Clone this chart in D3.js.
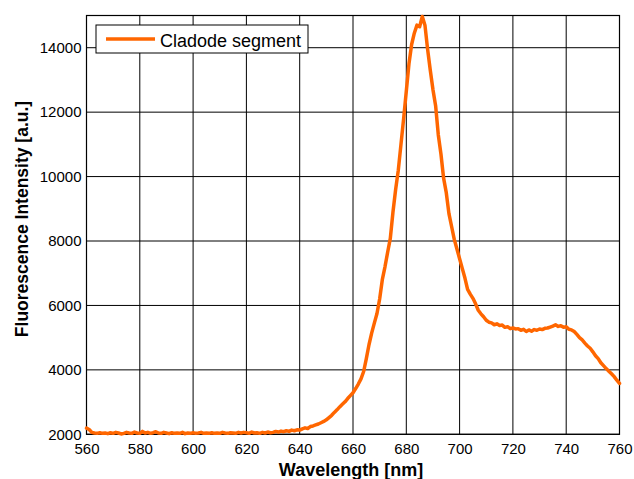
<!DOCTYPE html>
<html>
<head>
<meta charset="utf-8">
<script src="https://cdn.jsdelivr.net/npm/d3@7/dist/d3.min.js"></script>
<style>
  html, body { margin: 0; padding: 0; background: #fff; }
  svg { display: block; }
  text { font-family: "Liberation Sans", Arial, Helvetica, sans-serif; fill: #000; }
</style>
</head>
<body>
<svg id="chart" width="634" height="479"></svg>
<script>
// ---- Data ----
const wavelengthStart = 560; // nm, 1 nm step
const intensity = [
  2190, 2150, 2060, 2040, 2030, 2050, 2030, 2040, 2020, 2050,   // 560-569
  2030, 2060, 2040, 2010, 2030, 2060, 2040, 2030, 2070, 2040,   // 570-579
  2030, 2090, 2040, 2060, 2030, 2050, 2080, 2040, 2030, 2060,   // 580-589
  2040, 2020, 2050, 2030, 2040, 2030, 2060, 2020, 2040, 2030,   // 590-599
  2050, 2030, 2040, 2060, 2030, 2040, 2030, 2050, 2030, 2040,   // 600-609
  2030, 2060, 2040, 2030, 2050, 2040, 2030, 2060, 2040, 2060,   // 610-619
  2050, 2030, 2070, 2040, 2050, 2030, 2060, 2040, 2070, 2050,   // 620-629
  2060, 2090, 2070, 2100, 2080, 2110, 2090, 2130, 2110, 2140,   // 630-639
  2130, 2170, 2200, 2180, 2240, 2260, 2290, 2320, 2360, 2400,   // 640-649
  2450, 2520, 2590, 2680, 2760, 2850, 2930, 3010, 3110, 3200,   // 650-659
  3290, 3420, 3560, 3720, 3950, 4350, 4780, 5140, 5450, 5750,   // 660-669
  6200, 6800, 7200, 7650, 8080, 8900, 9600, 10200, 11000, 11800, // 670-679
  12650, 13500, 14100, 14450, 14700, 14650, 14970, 14700, 13950, 13300, // 680-689
  12700, 12200, 11300, 10700, 9950, 9500, 8850, 8450, 8050, 7750, // 690-699
  7450, 7150, 6850, 6500, 6350, 6220, 6050, 5850, 5740, 5650,   // 700-709
  5540, 5480, 5460, 5400, 5430, 5380, 5390, 5320, 5340, 5280,   // 710-719
  5300, 5270, 5280, 5230, 5260, 5190, 5240, 5200, 5250, 5230,   // 720-729
  5270, 5250, 5290, 5300, 5330, 5360, 5400, 5350, 5370, 5320,   // 730-739
  5340, 5260, 5240, 5190, 5100, 5000, 4930, 4830, 4740, 4670,   // 740-749
  4560, 4440, 4350, 4220, 4130, 4040, 3960, 3880, 3790, 3680,   // 750-759
  3580                                                          // 760
];
const xTicks = [560, 580, 600, 620, 640, 660, 680, 700, 720, 740, 760];
const yTicks = [2000, 4000, 6000, 8000, 10000, 12000, 14000];
const seriesName = "Cladode segment";
const xTitle = "Wavelength [nm]";
const yTitle = "Fluorescence Intensity [a.u.]";

const data = intensity.map((v, i) => ({ x: wavelengthStart + i, y: v }));

// ---- Layout ----
const svg = d3.select("#chart");
const pL = 86.5, pR = 619.5, pT = 15.5, pB = 434.3;

const x = d3.scaleLinear().domain([560, 760]).range([pL, pR]);
const y = d3.scaleLinear().domain([2000, 15000]).range([pB, pT]);

svg.append("rect").attr("x", 0).attr("y", 0).attr("width", 634).attr("height", 479).attr("fill", "#fff");

// grid
const grid = svg.append("g");
grid.selectAll("line.vx").data(xTicks).enter().append("line")
  .attr("x1", d => x(d)).attr("x2", d => x(d))
  .attr("y1", pT).attr("y2", pB)
  .attr("stroke", "#000").attr("stroke-width", 1);
grid.selectAll("line.hy").data(yTicks).enter().append("line")
  .attr("y1", d => y(d)).attr("y2", d => y(d))
  .attr("x1", pL).attr("x2", pR)
  .attr("stroke", "#000").attr("stroke-width", 1);

// axes
const xAxis = d3.axisBottom(x).tickValues(xTicks).tickSize(0).tickPadding(9).tickFormat(d3.format("d"));
const gx = svg.append("g").attr("transform", `translate(0,${pB})`).call(xAxis);
gx.select(".domain").remove();
gx.selectAll("text").style("font-size", "15px").style("font-family", "'Liberation Sans', Arial, sans-serif").attr("fill", "#000");

const yAxis = d3.axisLeft(y).tickValues(yTicks).tickSize(0).tickPadding(5).tickFormat(d3.format("d"));
const gy = svg.append("g").attr("transform", `translate(${pL},0)`).call(yAxis);
gy.select(".domain").remove();
gy.selectAll("text").style("font-size", "15px").style("font-family", "'Liberation Sans', Arial, sans-serif").attr("fill", "#000");

// plot border
svg.append("rect").attr("x", pL).attr("y", pT)
  .attr("width", pR - pL).attr("height", pB - pT)
  .attr("fill", "none").attr("stroke", "#000").attr("stroke-width", 1.2);

// series line
const line = d3.line().x(d => x(d.x)).y(d => y(d.y));
svg.append("path").datum(data)
  .attr("d", line)
  .attr("fill", "none")
  .attr("stroke", "#ff6600")
  .attr("stroke-width", 3.5)
  .attr("stroke-linejoin", "round")
  .attr("stroke-linecap", "round");

// titles
svg.append("text")
  .attr("x", (pL + pR) / 2 - 2).attr("y", 476)
  .attr("text-anchor", "middle")
  .style("font-size", "18px").style("font-weight", "bold")
  .text(xTitle);

svg.append("text")
  .attr("transform", `translate(28,219) rotate(-90)`)
  .attr("text-anchor", "middle")
  .style("font-size", "17.5px").style("font-weight", "bold")
  .text(yTitle);

// legend
const lg = svg.append("g");
lg.append("rect").attr("x", 96).attr("y", 25).attr("width", 212).attr("height", 28)
  .attr("fill", "#fff").attr("stroke", "#000").attr("stroke-width", 1);
lg.append("line").attr("x1", 106).attr("x2", 155).attr("y1", 39).attr("y2", 39)
  .attr("stroke", "#ff6600").attr("stroke-width", 3.5);
lg.append("text").attr("x", 160).attr("y", 47)
  .style("font-size", "18px")
  .text(seriesName);
</script>
</body>
</html>
